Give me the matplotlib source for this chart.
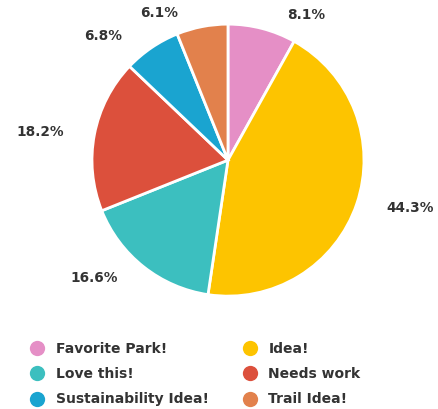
import matplotlib
matplotlib.use("Agg")
import matplotlib.pyplot as plt
from matplotlib.lines import Line2D
import numpy as np

categories = ["Favorite Park!", "Idea!", "Love this!", "Needs work", "Sustainability Idea!", "Trail Idea!"]
shares = [8.1, 44.3, 16.6, 18.2, 6.8, 6.1]
colors = ["#e58fc6", "#fdc400", "#3cbfbf", "#dc503c", "#1aa4d0", "#e2814c"]
# legend is read row by row: left column, then right column
legend_order = ["Favorite Park!", "Love this!", "Sustainability Idea!", "Idea!", "Needs work", "Trail Idea!"]

plt.rcParams["font.family"] = ["DejaVu Sans"]

fig = plt.figure(figsize=(4.38, 4.09), dpi=100)
ax = fig.add_axes([0.210, 0.276, 0.621, 0.665])

wedges, _ = ax.pie(shares, colors=colors, startangle=90, counterclock=False,
                   wedgeprops=dict(edgecolor="white", linewidth=2))

# labels sit just outside the rim, nudged sideways away from the pie
for w, v in zip(wedges, shares):
    mid = np.deg2rad((w.theta1 + w.theta2) / 2)
    cx, cy = np.cos(mid), np.sin(mid)
    x = 1.1 * cx + 0.3 * np.sign(cx)
    y = 1.1 * cy
    ax.text(x, y, f"{v}%", ha="center", va="center", fontsize=9.8,
            fontweight="bold", color="#333333")

ax.set_xlim(-1, 1)
ax.set_ylim(-1, 1)
ax.set_aspect("equal")
ax.axis("off")

handles = [Line2D([], [], marker="o", linestyle="none", markersize=11,
                  markerfacecolor=colors[categories.index(c)], markeredgecolor="none")
           for c in legend_order]
fig.legend(handles, legend_order, ncol=2, loc="upper left", bbox_to_anchor=(0.04, 0.194),
           frameon=False, prop=dict(weight="bold", size=10),
           handletextpad=0.85, columnspacing=2.45, labelspacing=0.8, handlelength=1.0,
           labelcolor="#333333")

fig.savefig("out.png", dpi=100)
